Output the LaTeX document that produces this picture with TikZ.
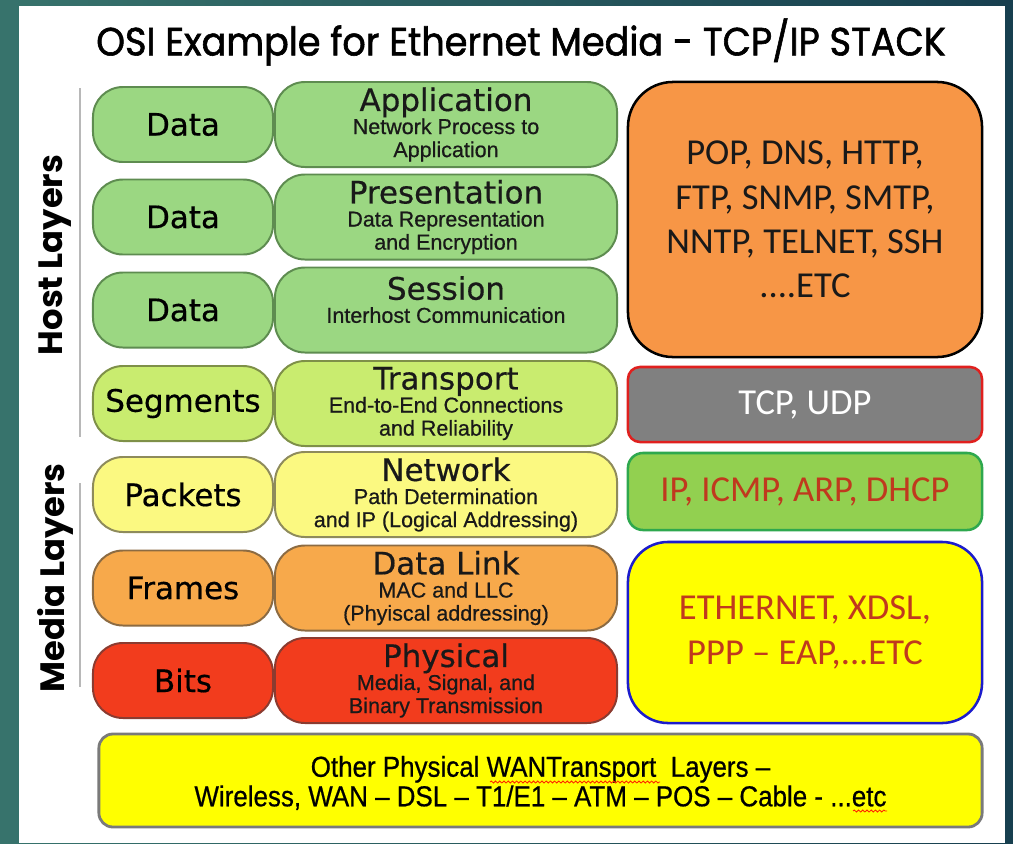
\documentclass[tikz,border=0pt]{standalone}
\usepackage{fontspec}
\usepackage{tikz}
\usetikzlibrary{decorations.pathmorphing}
\setmainfont{Liberation Sans}
\newfontfamily\subfont{Liberation Sans}[FakeBold=0.6]
\newfontfamily\dvfont{DejaVu Sans}[FakeBold=0.5]
\newfontfamily\calfont{Carlito}
\newfontfamily\popfont{Poppins}
\newfontfamily\titlefont{Poppins}[FakeBold=1.5,FakeStretch=0.93]
\newfontfamily\narrowfont{Liberation Sans}[FakeStretch=0.9,FakeBold=0.6]
\definecolor{bgteal}{HTML}{37736C}
\definecolor{bgnavy}{HTML}{173F4F}
\definecolor{hostgreen}{HTML}{9BD782}
\definecolor{hostedge}{HTML}{5E8C50}
\definecolor{transgreen}{HTML}{C9EC6F}
\definecolor{transedge}{HTML}{7E9048}
\definecolor{netyellow}{HTML}{FBF981}
\definecolor{netedge}{HTML}{8E8B5B}
\definecolor{linkorange}{HTML}{F7A94B}
\definecolor{linkedge}{HTML}{8C6B42}
\definecolor{physred}{HTML}{F23C1D}
\definecolor{physedge}{HTML}{8B3B30}
\definecolor{protoorange}{HTML}{F79646}
\definecolor{tcpgray}{HTML}{808080}
\definecolor{tcpred}{HTML}{E0201E}
\definecolor{ipgreen}{HTML}{92D050}
\definecolor{ipedge}{HTML}{2EA84E}
\definecolor{ethyellow}{HTML}{FFFF00}
\definecolor{ethblue}{HTML}{1C1CCC}
\definecolor{prototext}{HTML}{C0391E}
\definecolor{wanedge}{HTML}{7A7A7A}
\definecolor{sidegray}{HTML}{B8B8B8}
\definecolor{spellred}{HTML}{FF2000}
\newcommand\laytitle{\dvfont\fontsize{22}{26}\selectfont}

\begin{document}
\begin{tikzpicture}[x=0.025cm,y=-0.025cm,
pdu/.style={draw,line width=1.4pt,rounded corners=0.75cm,minimum width=4.5cm,minimum height=1.875cm,inner sep=0pt,font=\dvfont\fontsize{22}{26}\selectfont},
layer/.style={draw,line width=1.4pt,rounded corners=0.75cm,minimum width=8.55cm,minimum height=2.125cm,inner sep=0pt},
laytext/.style={inner sep=0pt,align=center,text=black!90,font=\subfont\fontsize{15.3}{16.4}\selectfont},
proto/.style={draw,line width=1.8pt,minimum width=8.85cm,inner sep=0pt,align=center,font=\calfont\fontsize{26}{31.5}\selectfont},
hostc/.style={fill=hostgreen,draw=hostedge},
transc/.style={fill=transgreen,draw=transedge},
netc/.style={fill=netyellow,draw=netedge},
linkc/.style={fill=linkorange,draw=linkedge},
physc/.style={fill=physred,draw=physedge},
side/.style={rotate=90,font=\popfont\bfseries\fontsize{24}{28}\selectfont},
sideline/.style={sidegray,line width=2pt},
spell/.style={spellred,line width=0.6pt,decorate,decoration={snake,amplitude=0.7pt,segment length=3pt}}]
\useasboundingbox(0,0)rectangle(1013,843);
\shade[left color=bgteal,right color=bgnavy](0,0)rectangle(1013,843);
\fill[white](19,6)rectangle(1005,843);
\node[font=\titlefont\fontsize{28}{32}\selectfont](title)at(521,42){OSI Example for Ethernet Media - TCP/IP STACK};
% host / media brackets
\draw[sideline](80,88)--(80,437);
\draw[sideline](80,483)--(80,687);
\node[side](host)at(55,255){Host Layers};
\node[side](media)at(55,578){Media Layers};
% data units
\node[pdu,hostc](data1)at(183,124.5){Data};
\node[pdu,hostc](data2)at(183,217){Data};
\node[pdu,hostc](data3)at(183,310){Data};
\node[pdu,transc](seg)at(183,403.5){Segments};
\node[pdu,netc](pkt)at(183,494.5){Packets};
\node[pdu,linkc](frm)at(183,588){Frames};
\node[pdu,physc](bits)at(183,680.5){Bits};
% osi layers
\node[layer,hostc](app)at(446,124.5){};
\node[laytext](app-t)at(app){{\laytitle Application}\\Network Process to\\Application};
\node[layer,hostc](pres)at(446,217){};
\node[laytext](pres-t)at(pres){{\laytitle Presentation}\\Data Representation\\and Encryption};
\node[layer,hostc](sess)at(446,310){};
\node[laytext](sess-t)at([yshift=0.26cm]sess.center){{\laytitle Session}\\Interhost Communication};
\node[layer,transc](trans)at(446,403.5){};
\node[laytext](trans-t)at(trans){{\laytitle Transport}\\End-to-End Connections\\and Reliability};
\node[layer,netc](net)at(446,494.5){};
\node[laytext](net-t)at(net){{\laytitle Network}\\Path Determination\\and IP (Logical Addressing)};
\node[layer,linkc](link)at(446,588){};
\node[laytext](link-t)at(link){{\laytitle Data Link}\\MAC and LLC\\(Phyiscal addressing)};
\node[layer,physc](phys)at(446,680.5){};
\node[laytext](phys-t)at(phys){{\laytitle Physical}\\Media, Signal, and\\Binary Transmission};
% tcp/ip protocols
\node[proto,fill=protoorange,draw=black,rounded corners=1.125cm,minimum height=6.875cm,text=black!90](apps)at(805,219.5){POP, DNS, HTTP,\\FTP, SNMP, SMTP,\\NNTP, TELNET, SSH\\....ETC};
\node[proto,fill=tcpgray,draw=tcpred,rounded corners=0.3cm,minimum height=1.875cm,text=white](tcp)at(805,404.5){TCP, UDP};
\node[proto,fill=ipgreen,draw=ipedge,rounded corners=0.375cm,minimum height=1.925cm,text=prototext](ip)at(805,491.5){IP, ICMP, ARP, DHCP};
\node[proto,fill=ethyellow,draw=ethblue,rounded corners=1cm,minimum height=4.525cm,text=prototext](eth)at(805,632.5){ETHERNET, XDSL,\\PPP – EAP,...ETC};
\node[draw=wanedge,fill=ethyellow,line width=2pt,rounded corners=0.35cm,minimum width=22.075cm,minimum height=2.325cm,inner sep=0pt](wan)at(540.5,780.5){};
\node[inner sep=0pt,align=center,font=\narrowfont\fontsize{20.5}{21}\selectfont](wan-t)at([yshift=-0.06cm]wan.center){Other Physical WANTransport\ \ Layers –\\Wireless, WAN – DSL – T1/E1 – ATM – POS – Cable - ...etc};
% spelling marks
\coordinate(sp1a)at(490,782);
\coordinate(sp1b)at(660,782);
\coordinate(sp2a)at(853,811);
\coordinate(sp2b)at(887,811);
\draw[spell](sp1a)--(sp1b);
\draw[spell](sp2a)--(sp2b);
\end{tikzpicture}
\end{document}
